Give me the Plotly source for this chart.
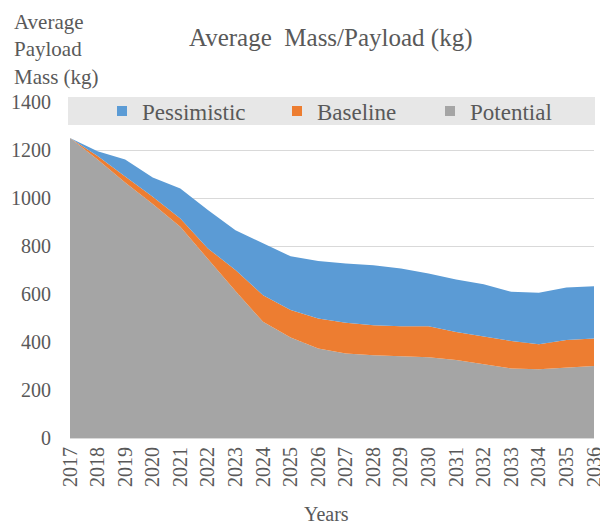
import plotly.graph_objects as go

# scenario curves (kg)
years = list(range(2017, 2037))
potential = [1250, 1160, 1065, 975, 880, 745, 612, 484, 419, 373,
             352, 345, 341, 336, 325, 308, 290, 286, 294, 300]
baseline = [1250, 1175, 1090, 1005, 915, 790, 700, 595, 533, 498,
            480, 470, 466, 466, 442, 422, 404, 391, 408, 415]
pessimistic = [1250, 1195, 1160, 1085, 1040, 950, 866, 810, 757, 738,
               727, 720, 706, 685, 660, 641, 609, 605, 627, 632]
y_ticks = [0, 200, 400, 600, 800, 1000, 1200, 1400]

FONT = "Liberation Serif, Times New Roman, serif"
TEXT = "#595959"
colors = {"Pessimistic": "#5b9bd5", "Baseline": "#ed7d31", "Potential": "#a5a5a5"}

# page body has an 8px margin, so the figure is drawn 8px in from the window corner
OFF = 8
W, H = 600, 520
L, R, T, B = 62, 14, 94, 90
pw, ph = W - L - R, H - T - B


def px(x):
    # window pixel -> paper x
    return (x - OFF - L) / pw


def py(y):
    # window pixel -> paper y
    return (H - B - (y - OFF)) / ph


fig = go.Figure()

# areas drawn bottom-up so tonexty fills between scenarios
fig.add_trace(go.Scatter(x=years, y=potential, mode="lines", line=dict(width=0),
                         fill="tozeroy", fillcolor=colors["Potential"],
                         showlegend=False, hoverinfo="x+y", name="Potential"))
fig.add_trace(go.Scatter(x=years, y=baseline, mode="lines", line=dict(width=0),
                         fill="tonexty", fillcolor=colors["Baseline"],
                         showlegend=False, hoverinfo="x+y", name="Baseline"))
fig.add_trace(go.Scatter(x=years, y=pessimistic, mode="lines", line=dict(width=0),
                         fill="tonexty", fillcolor=colors["Pessimistic"],
                         showlegend=False, hoverinfo="x+y", name="Pessimistic"))

# one legend per entry so each can sit where the reference has it
legend_pos = {"Pessimistic": ("legend", 102), "Baseline": ("legend2", 277),
              "Potential": ("legend3", 430)}
for name in ["Pessimistic", "Baseline", "Potential"]:
    fig.add_trace(go.Scatter(x=[None], y=[None], mode="markers", name=name,
                             legend=legend_pos[name][0],
                             marker=dict(symbol="square", size=10, color=colors[name])))


def legend_box(x):
    return dict(orientation="h", x=px(x), xanchor="left", y=py(111), yanchor="middle",
                bgcolor="rgba(0,0,0,0)", font=dict(size=23, color=TEXT, family=FONT),
                itemwidth=30)


fig.update_layout(
    width=W, height=H,
    margin=dict(l=L, r=R, t=T, b=B, autoexpand=False),
    paper_bgcolor="white", plot_bgcolor="white",
    font=dict(family=FONT, color=TEXT, size=18),
    showlegend=True,
    legend=legend_box(legend_pos["Pessimistic"][1]),
    legend2=legend_box(legend_pos["Baseline"][1]),
    legend3=legend_box(legend_pos["Potential"][1]),
    shapes=[dict(type="rect", xref="paper", yref="paper", layer="above",
                 x0=px(68), x1=px(595), y0=py(125), y1=py(97),
                 fillcolor="#e7e7e7", line=dict(width=0))],
    annotations=[
        dict(text="Average  Mass/Payload (kg)", xref="paper", yref="paper",
             x=px(330), y=py(38), xanchor="center", yanchor="middle",
             showarrow=False, font=dict(size=25, color=TEXT)),
        dict(text="Average<br>Payload<br>Mass (kg)", xref="paper", yref="paper",
             x=px(12), y=py(8), xanchor="left", yanchor="top", align="left",
             showarrow=False, font=dict(size=21, color=TEXT)),
        dict(text="Years", xref="paper", yref="paper",
             x=px(326), y=py(514), xanchor="center", yanchor="middle",
             showarrow=False, font=dict(size=20, color=TEXT)),
    ],
)

fig.update_xaxes(range=[2017, 2036], tickvals=years, ticktext=[str(y) for y in years],
                 tickangle=-90, showgrid=False, zeroline=False, automargin=False,
                 showline=True, linecolor="#d9d9d9", linewidth=1,
                 tickfont=dict(size=20, color=TEXT))
fig.update_yaxes(range=[0, 1400], tickvals=y_ticks, showgrid=True, automargin=False,
                 gridcolor="#d9d9d9", gridwidth=1, zeroline=False,
                 ticklabelstandoff=18, tickfont=dict(size=20, color=TEXT))

fig.write_html("out.html")
